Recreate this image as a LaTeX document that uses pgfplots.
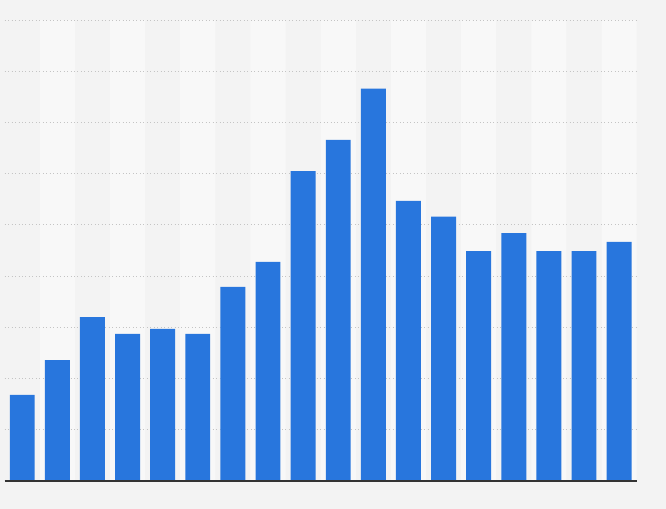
\documentclass[border=0pt]{standalone}
\usepackage{pgfplots}
\pgfplotsset{compat=1.18}
\definecolor{bg}{HTML}{F3F3F3}
\definecolor{stripe}{HTML}{F8F8F8}
\definecolor{barblue}{HTML}{2876DD}
\definecolor{gridc}{HTML}{C4C4C4}
\definecolor{basec}{HTML}{333333}
\begin{document}
\begin{tikzpicture}
\fill[bg] (0,0) rectangle (499.5pt,381.75pt);
\begin{axis}[
  scale only axis,
  axis on top,
  at={(3.5pt,21pt)}, anchor=south west,
  width=474pt, height=345.75pt,
  xmin=-0.5, xmax=17.5, ymin=0, ymax=9,
  axis x line=bottom, axis y line=none,
  axis line style={-, basec, line width=1.1pt},
  xtick=\empty, ytick=\empty,
  major tick length=0pt,
  unbounded coords=jump,
  clip=false,
]
\addplot[ybar, bar width=1, bar shift=0pt, fill=stripe, draw=none]
  coordinates {(1,9)(3,9)(5,9)(7,9)(9,9)(11,9)(13,9)(15,9)(17,9)};
\addplot[gridc, dotted, line width=0.6pt]
  coordinates {(-0.5,1)(17.5,1)(0,nan)(-0.5,2)(17.5,2)(0,nan)(-0.5,3)(17.5,3)(0,nan)
  (-0.5,4)(17.5,4)(0,nan)(-0.5,5)(17.5,5)(0,nan)(-0.5,6)(17.5,6)(0,nan)
  (-0.5,7)(17.5,7)(0,nan)(-0.5,8)(17.5,8)(0,nan)(-0.5,9)(17.5,9)};
\addplot[ybar, bar width=0.71, bar shift=0pt, fill=barblue, draw=none]
  coordinates {
  (0,1.68)(1,2.36)(2,3.20)(3,2.87)(4,2.97)(5,2.87)(6,3.79)(7,4.28)(8,6.05)
  (9,6.66)(10,7.66)(11,5.47)(12,5.16)(13,4.49)(14,4.84)(15,4.49)(16,4.49)(17,4.67)};
\end{axis}
\end{tikzpicture}
\end{document}
